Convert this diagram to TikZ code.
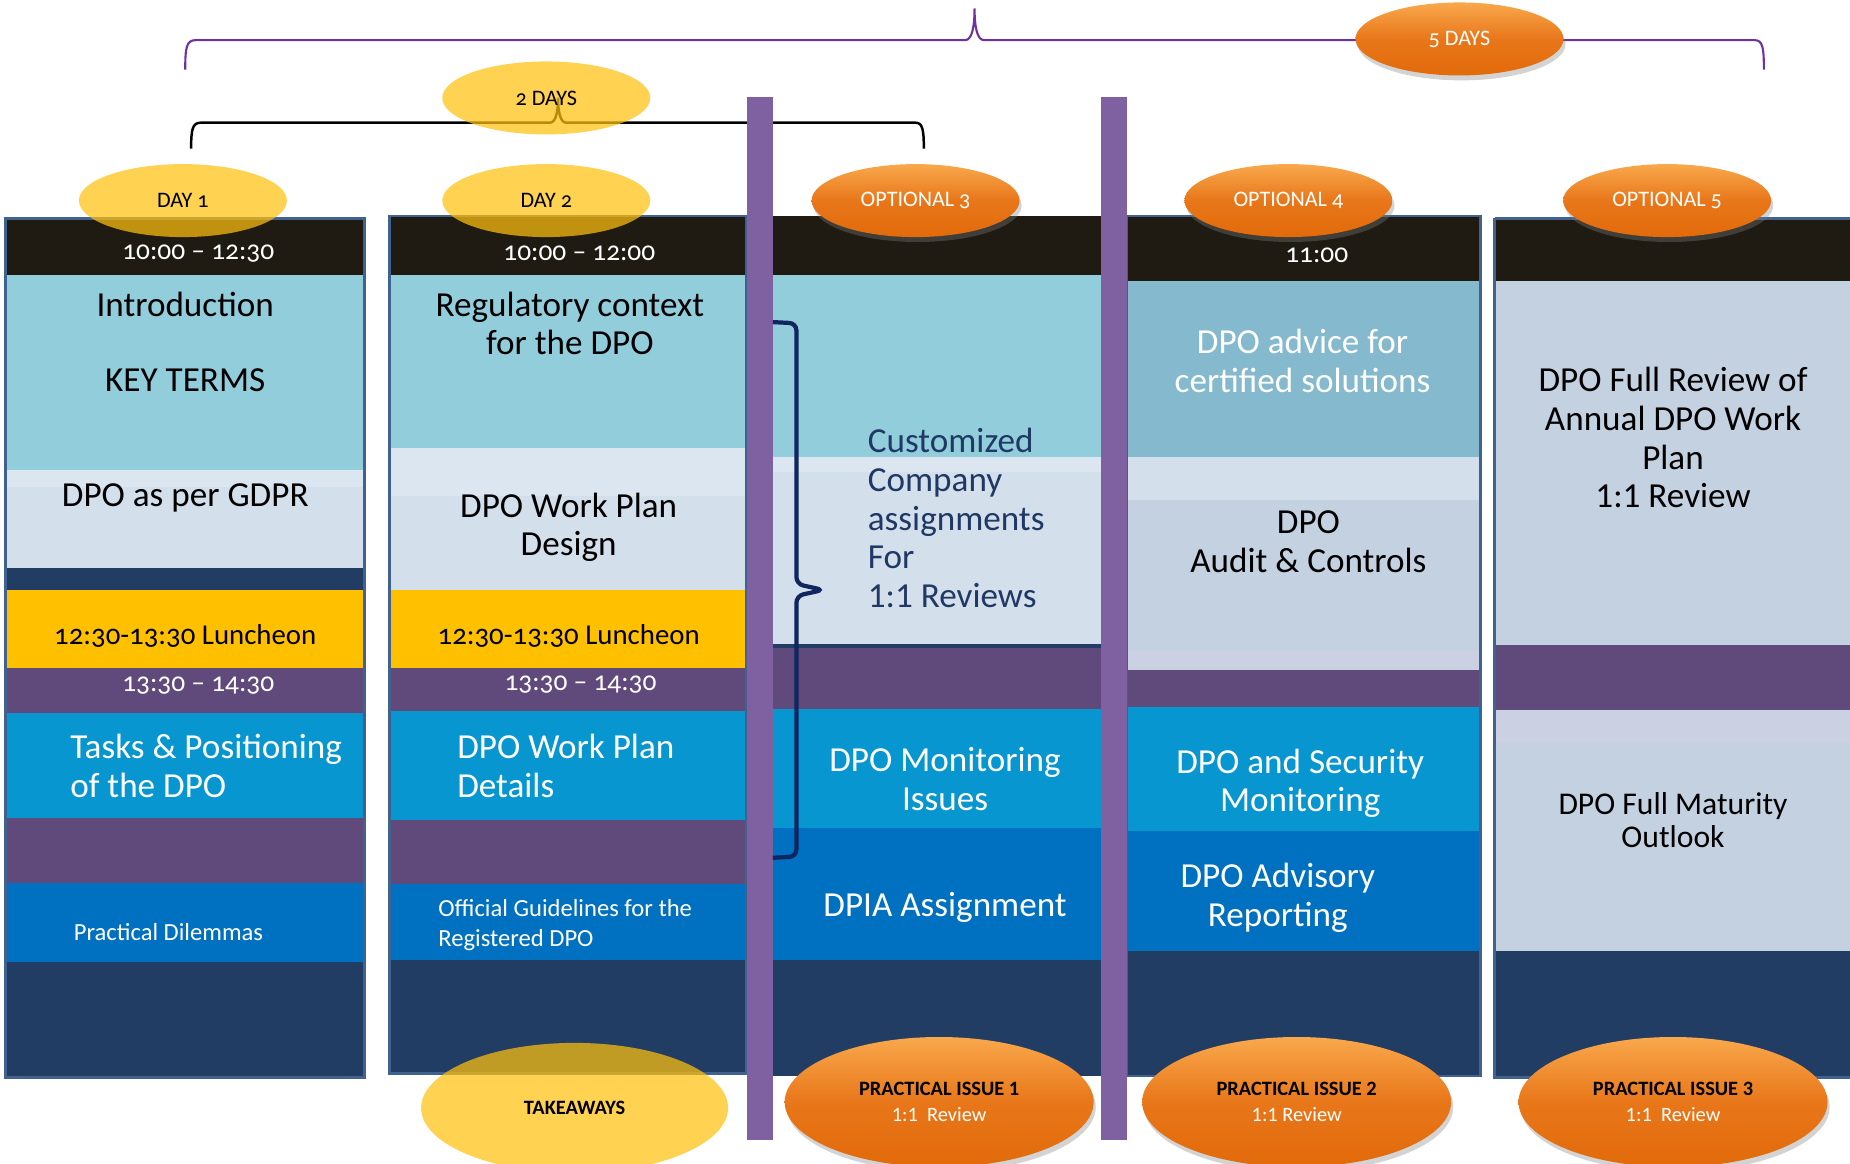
\documentclass[tikz,border=0pt]{standalone}
\usepackage{fontspec}
\setmainfont{Carlito}
\newfontfamily\oldfig[Numbers=OldStyle]{Carlito}
\usetikzlibrary{shapes.geometric,shadows}

\definecolor{hdrBlack}{HTML}{1F1B12}
\definecolor{paleBlue}{HTML}{92CDDC}
\definecolor{paleGray}{HTML}{D3DFEB}
\definecolor{paleGrayTop}{HTML}{DCE6F1}
\definecolor{deepNavy}{HTML}{213D64}
\definecolor{lunchGold}{HTML}{FFC000}
\definecolor{bandPurple}{HTML}{604A7B}
\definecolor{skyBlue}{HTML}{0896D0}
\definecolor{midBlue}{HTML}{0070C0}
\definecolor{steelBlue}{HTML}{84B9CE}
\definecolor{slateGray}{HTML}{C4D1E1}
\definecolor{lavender}{HTML}{CBD0E3}
\definecolor{barPurple}{HTML}{7F60A0}
\definecolor{bracePurple}{HTML}{7030A0}
\definecolor{braceNavy}{HTML}{0F2660}
\definecolor{colEdge}{HTML}{41618E}
\definecolor{eggYellow}{HTML}{FFC10E}
\definecolor{orTop}{HTML}{F9A84C}
\definecolor{orMid}{HTML}{E8771A}
\definecolor{orBot}{HTML}{E26A0A}
\definecolor{inkNavy}{HTML}{1F3864}

\begin{document}
\begin{tikzpicture}[x=0.11799mm, y=-0.11799mm,
  every node/.style={inner sep=0pt},
  bodytext/.style={font=\fontsize{10}{11}\selectfont, align=center},
  lighttext/.style={bodytext, text=white},
  smalltext/.style={font=\fontsize{7}{8.7}\selectfont, align=left, text=white},
  timetext/.style={font=\oldfig\fontsize{7.8}{9}\selectfont, text=white},
  lunchtext/.style={font=\oldfig\fontsize{8.2}{9}\selectfont},
  dayegg/.style={ellipse, fill=eggYellow, fill opacity=0.72, text opacity=1,
    minimum width=2.08cm, minimum height=0.73cm, font=\oldfig\fontsize{6.3}{7}\selectfont},
  optegg/.style={ellipse, top color=orTop, bottom color=orBot, middle color=orMid,
    drop shadow={shadow xshift=0.6pt, shadow yshift=-1.4pt, opacity=0.35},
    minimum width=2.08cm, minimum height=0.73cm, text=white,
    font=\oldfig\fontsize{6.3}{7}\selectfont},
  issueegg/.style={optegg, minimum width=3.09cm, minimum height=1.3cm,
    text=black, font=\fontsize{5.8}{7.4}\selectfont, align=center}
]
\useasboundingbox (0,0) rectangle (1568,986);

% braces on top
\draw[bracePurple, line width=0.6pt] (157,59) .. controls (157,40) and (158,34) .. (166,34)
  -- (818,34) .. controls (824,34) and (826,22) .. (826,7)
  .. controls (826,22) and (828,34) .. (834,34)
  -- (1487,34) .. controls (1494,34) and (1495,40) .. (1495,59);
\draw[black, line width=0.7pt] (162,126) .. controls (162,110) and (163,104) .. (170,104)
  -- (466,104) .. controls (471,104) and (473,95) .. (473,83)
  .. controls (473,95) and (475,104) .. (480,104)
  -- (776,104) .. controls (782,104) and (783,110) .. (783,126);

% day 1
\fill[hdrBlack] (5,185) rectangle (309,233);
\fill[paleBlue] (5,233) rectangle (309,398);
\fill[paleGray] (5,398) rectangle (309,481);
\fill[paleGrayTop] (5,398) rectangle (309,413);
\fill[deepNavy] (5,481) rectangle (309,500);
\fill[lunchGold] (5,500) rectangle (309,566);
\fill[bandPurple] (5,566) rectangle (309,604);
\fill[skyBlue] (5,604) rectangle (309,693);
\fill[bandPurple] (5,693) rectangle (309,748);
\fill[midBlue] (5,748) rectangle (309,815);
\fill[deepNavy] (5,815) rectangle (309,913);
\draw[colEdge, line width=0.8pt] (5,185) rectangle (309,913);

% day 2
\fill[hdrBlack] (330,183) rectangle (633,233);
\fill[paleBlue] (330,233) rectangle (633,380);
\fill[paleGray] (330,380) rectangle (633,500);
\fill[paleGrayTop] (330,380) rectangle (633,420);
\fill[lunchGold] (330,500) rectangle (633,566);
\fill[bandPurple] (330,566) rectangle (633,603);
\fill[skyBlue] (330,603) rectangle (633,695);
\fill[bandPurple] (330,695) rectangle (633,749);
\fill[midBlue] (330,749) rectangle (633,814);
\fill[deepNavy] (330,814) rectangle (633,910);
\draw[colEdge, line width=0.8pt] (330,183) rectangle (633,910);

% optional 3
\fill[hdrBlack] (655,183) rectangle (933,233);
\fill[paleBlue] (655,233) rectangle (933,387);
\fill[paleGray] (655,387) rectangle (933,546);
\fill[paleGrayTop] (655,387) rectangle (933,400);
\fill[deepNavy] (655,546) rectangle (933,549);
\fill[bandPurple] (655,549) rectangle (933,601);
\fill[skyBlue] (655,601) rectangle (933,702);
\fill[midBlue] (655,702) rectangle (933,814);
\fill[deepNavy] (655,814) rectangle (933,912);

% optional 4
\fill[hdrBlack] (955,183) rectangle (1255,238);
\fill[steelBlue] (955,238) rectangle (1255,387);
\fill[paleGray] (955,387) rectangle (1255,424);
\fill[slateGray] (955,424) rectangle (1255,551);
\fill[lavender] (955,551) rectangle (1255,568);
\fill[bandPurple] (955,568) rectangle (1255,599);
\fill[skyBlue] (951,599) rectangle (1255,704);
\fill[midBlue] (955,704) rectangle (1255,806);
\fill[deepNavy] (955,806) rectangle (1255,912);
\draw[colEdge, line width=0.8pt] (955,183) rectangle (1255,912);

% optional 5
\fill[hdrBlack] (1267,185) rectangle (1568,238);
\fill[slateGray] (1267,238) rectangle (1568,547);
\fill[bandPurple] (1267,547) rectangle (1568,602);
\fill[lavender] (1267,602) rectangle (1568,630);
\fill[slateGray] (1267,630) rectangle (1568,806);
\fill[deepNavy] (1267,806) rectangle (1568,913);
\draw[colEdge, line width=0.8pt] (1267,185) -- (1267,913) -- (1575,913);
\draw[colEdge, line width=0.8pt] (1267,185) -- (1575,185);

% separators
\fill[barPurple] (633,82) rectangle (655,966);
\fill[barPurple] (933,82) rectangle (955,966);

% bracket over optional 3
\draw[braceNavy, line width=1.2pt, rounded corners=2pt]
  (655,273) -- (675,274) -- (675,495) -- (698,500) -- (675,505) -- (675,726) -- (655,727);

% texts
\node[timetext] (timeA) at (168,215) {10:00 – 12:30};
\node[bodytext] (intro) at (157,258) {Introduction};
\node[bodytext] (terms) at (157,322) {KEY TERMS};
\node[bodytext] (gdpr) at (157,422) {DPO as per GDPR};
\node[lunchtext] (lunchA) at (157,539) {12:30-13:30 Luncheon};
\node[timetext] (timeB) at (168,581) {13:30 – 14:30};
\node[lighttext, anchor=west, align=left] (tasks) at (59,649) {Tasks \& Positioning\\of the DPO};
\node[smalltext, anchor=west] (dilemmas) at (62,790) {Practical Dilemmas};

\node[timetext] (timeC) at (491,215) {10:00 – 12:00};
\node[bodytext] (regctx) at (483,274) {Regulatory context\\for the DPO};
\node[bodytext] (wpdesign) at (482,447) {DPO Work Plan\\Design};
\node[lunchtext] (lunchB) at (482,539) {12:30-13:30 Luncheon};
\node[timetext] (timeD) at (492,580) {13:30 – 14:30};
\node[lighttext, anchor=west, align=left] (wpdetails) at (387,649) {DPO Work Plan\\Details};
\node[smalltext, anchor=west] (guides) at (371,784) {Official Guidelines for the\\Registered DPO};

\node[bodytext, text=inkNavy, anchor=west, align=left] (custom) at (735,439)
  {Customized\\Company\\assignments\\For\\1:1 Reviews};
\node[lighttext] (monitor) at (801,660) {DPO Monitoring\\Issues};
\node[lighttext] (dpia) at (801,769) {DPIA Assignment};

\node[timetext] (timeE) at (1116,216) {11:00};
\node[lighttext] (advice) at (1104,306) {DPO advice for\\certified solutions};
\node[bodytext] (audit) at (1109,459) {DPO\\Audit \& Controls};
\node[lighttext] (security) at (1102,664) {DPO and Security\\Monitoring};
\node[lighttext] (advisory) at (1083,761) {DPO Advisory\\Reporting};

\node[bodytext] (fullreview) at (1418,371) {DPO Full Review of\\Annual DPO Work\\Plan\\1:1 Review};
\node[bodytext, font=\fontsize{9}{9.2}\selectfont] (maturity) at (1418,695) {DPO Full Maturity\\Outlook};

% ellipses
\node[dayegg] (twodays) at (463,83) {2 DAYS};
\node[optegg] (fivedays) at (1237,33) {5 DAYS};
\node[dayegg] (day1) at (155,170) {DAY 1};
\node[dayegg] (day2) at (463,170) {DAY 2};
\node[optegg] (opt3) at (776,170) {OPTIONAL 3};
\node[optegg] (opt4) at (1092,170) {OPTIONAL 4};
\node[optegg] (opt5) at (1413,170) {OPTIONAL 5};
\node[dayegg, minimum width=3.07cm, minimum height=1.3cm, font=\bfseries\fontsize{5.8}{7}\selectfont]
  (takeaways) at (487,939) {TAKEAWAYS};
\node[issueegg] (issue1) at (796,934) {\textbf{PRACTICAL ISSUE 1}\\\textcolor{white}{1:1\ \ Review}};
\node[issueegg] (issue2) at (1099,934) {\textbf{PRACTICAL ISSUE 2}\\\textcolor{white}{1:1 Review}};
\node[issueegg] (issue3) at (1418,934) {\textbf{PRACTICAL ISSUE 3}\\\textcolor{white}{1:1\ \ Review}};
\end{tikzpicture}
\end{document}
